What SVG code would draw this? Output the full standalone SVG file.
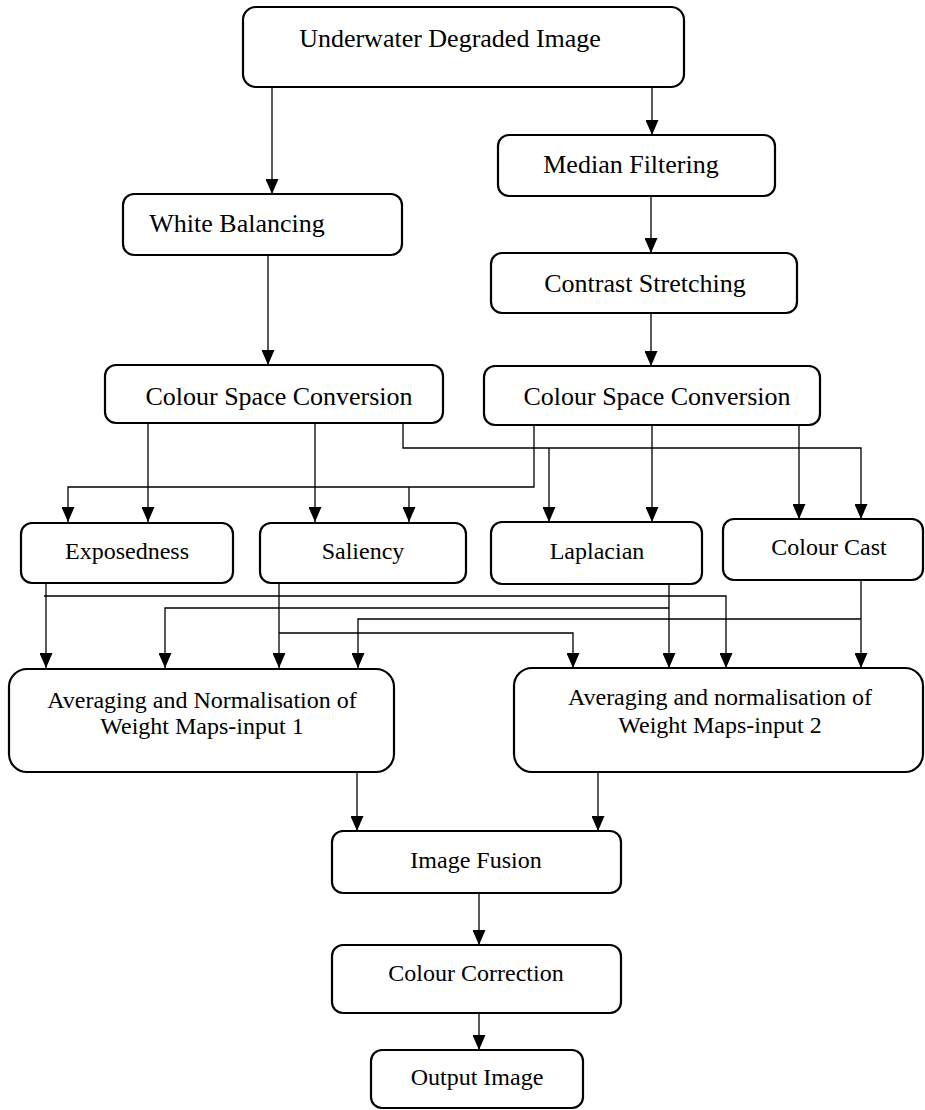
<svg xmlns="http://www.w3.org/2000/svg" width="925" height="1110" viewBox="0 0 925 1110">
  <style>
    .box { fill: #ffffff; stroke: #000000; stroke-width: 2.2; }
    .lbl { font-family: "Liberation Serif", "Times New Roman", serif; fill: #000000; text-anchor: middle; }
    .big { font-size: 26px; }
    .sm { font-size: 24px; }
    .wire { fill: none; stroke: #000000; stroke-width: 1.3; }
  </style>
  <defs>
    <marker id="arrow" viewBox="0 0 10 10" refX="10" refY="5" markerWidth="15" markerHeight="13" markerUnits="userSpaceOnUse" orient="auto" preserveAspectRatio="none">
      <path d="M0,0 L10,5 L0,10 z" fill="#000000"/>
    </marker>
  </defs>

  <rect width="925" height="1110" fill="#ffffff"/>

  <!-- connectors -->
  <g id="connectors" class="wire" marker-end="url(#arrow)">
    <path d="M272,87 V194"/>
    <path d="M652,87 V135"/>
    <path d="M651,196 V253"/>
    <path d="M651,313 V366"/>
    <path d="M268,255 V365"/>

    <!-- from left colour space conversion -->
    <path d="M148,423 V522"/>
    <path d="M315,423 V522"/>
    <path d="M403,423 V448 H861 V519"/>
    <path d="M549,448 V522"/>

    <!-- from right colour space conversion -->
    <path d="M652,425 V522"/>
    <path d="M799,425 V519"/>
    <path d="M534,425 V487 H68 V522"/>
    <path d="M409,487 V522"/>

    <!-- weight maps to averaging -->
    <path d="M46,583 V668"/>
    <path d="M44,596 H726 V668"/>
    <path d="M279,583 V668"/>
    <path d="M279,633 H573 V668"/>
    <path d="M669,584 V668"/>
    <path d="M669,608 H165 V668"/>
    <path d="M861,580 V668"/>
    <path d="M861,619 H358 V668"/>

    <!-- fusion chain -->
    <path d="M357,772 V831"/>
    <path d="M598,772 V831"/>
    <path d="M479,893 V945"/>
    <path d="M479,1013 V1050"/>
  </g>

  <g id="underwater-degraded-image">
    <rect class="box" x="243" y="7" width="441" height="80" rx="13"/>
    <text class="lbl big" x="450" y="47">Underwater Degraded Image</text>
  </g>

  <g id="median-filtering">
    <rect class="box" x="498" y="135" width="277" height="61" rx="11"/>
    <text class="lbl big" x="631" y="173">Median Filtering</text>
  </g>

  <g id="white-balancing">
    <rect class="box" x="123" y="194" width="279" height="61" rx="11"/>
    <text class="lbl big" x="237" y="232">White Balancing</text>
  </g>

  <g id="contrast-stretching">
    <rect class="box" x="491" y="253" width="306" height="60" rx="11"/>
    <text class="lbl big" x="645" y="292">Contrast Stretching</text>
  </g>

  <g id="colour-space-conversion-1">
    <rect class="box" x="105" y="365" width="338" height="58" rx="11"/>
    <text class="lbl big" x="279" y="405">Colour Space Conversion</text>
  </g>

  <g id="colour-space-conversion-2">
    <rect class="box" x="484" y="366" width="336" height="59" rx="11"/>
    <text class="lbl big" x="657" y="405">Colour Space Conversion</text>
  </g>

  <g id="exposedness">
    <rect class="box" x="21" y="523" width="212" height="60" rx="11"/>
    <text class="lbl sm" x="127" y="559">Exposedness</text>
  </g>

  <g id="saliency">
    <rect class="box" x="260" y="523" width="206" height="60" rx="11"/>
    <text class="lbl sm" x="363" y="559">Saliency</text>
  </g>

  <g id="laplacian">
    <rect class="box" x="491" y="522" width="211" height="62" rx="11"/>
    <text class="lbl sm" x="597" y="559">Laplacian</text>
  </g>

  <g id="colour-cast">
    <rect class="box" x="723" y="519" width="200" height="61" rx="11"/>
    <text class="lbl sm" x="829" y="555">Colour Cast</text>
  </g>

  <g id="averaging-input-1">
    <rect class="box" x="9" y="669" width="385" height="103" rx="18"/>
    <text class="lbl sm" x="202" y="708">Averaging and Normalisation of</text>
    <text class="lbl sm" x="202" y="734">Weight Maps-input 1</text>
  </g>

  <g id="averaging-input-2">
    <rect class="box" x="514" y="668" width="409" height="104" rx="18"/>
    <text class="lbl sm" x="720" y="705">Averaging and normalisation of</text>
    <text class="lbl sm" x="720" y="733">Weight Maps-input 2</text>
  </g>

  <g id="image-fusion">
    <rect class="box" x="332" y="831" width="289" height="62" rx="11"/>
    <text class="lbl sm" x="476" y="868">Image Fusion</text>
  </g>

  <g id="colour-correction">
    <rect class="box" x="332" y="945" width="289" height="68" rx="11"/>
    <text class="lbl sm" x="476" y="981">Colour Correction</text>
  </g>

  <g id="output-image">
    <rect class="box" x="371" y="1050" width="212" height="58" rx="11"/>
    <text class="lbl sm" x="477" y="1085">Output Image</text>
  </g>
</svg>
